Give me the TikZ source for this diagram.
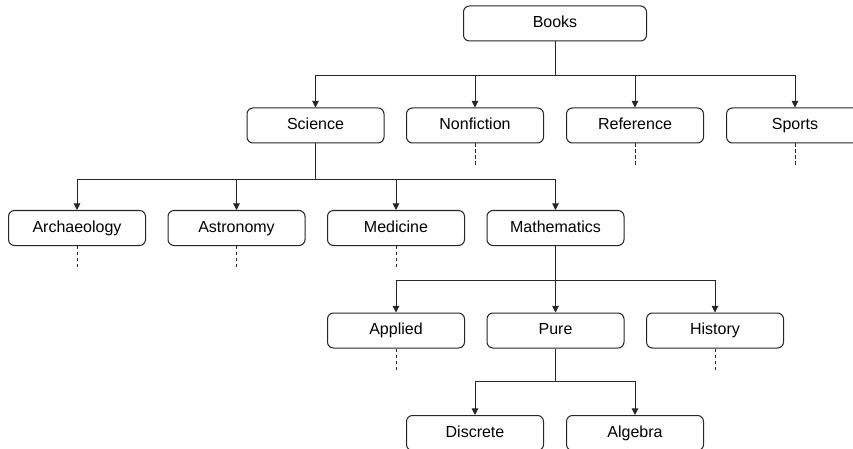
\documentclass[tikz,border=0pt]{standalone}
\usepackage{fontspec}
\setmainfont{Liberation Sans}
\usetikzlibrary{arrows.meta}

\begin{document}
\begin{tikzpicture}[x=0.75pt,y=-0.75pt]
        %
        % `category' is used for every box of the tree.
        % `branch' is used for the arrows, `more' for the dashed stubs.
        \tikzstyle{category} = [draw=black!85,line width=0.75pt,fill=white,rounded corners=4.5pt,minimum width=102.75pt,minimum height=26.25pt,inner sep=0pt,text height=9pt,text depth=3pt,font=\fontsize{12}{14}\selectfont]
        \tikzstyle{branch} = [draw=black!85,line width=0.75pt,-{Triangle[width=5pt,length=5pt]}]
        \tikzstyle{more} = [draw=black!85,line width=0.75pt,dash pattern=on 2.5pt off 2pt]
        %
        \clip (0,0) rectangle (853,449);
        %
        % Root
        \node[category,minimum width=137.25pt] (books) at (555,23.5) {Books};
        %
        % Row 1
        \node[category] (science) at (315.5,125.5) {Science};
        \node[category] (nonfiction) at (475,125.5) {Nonfiction};
        \node[category] (reference) at (635,125.5) {Reference};
        \node[category] (sports) at (795,125.5) {Sports};
        \draw[branch] (books.south) -- ++(0,34) -| (science.north);
        \draw[branch] (books.south) -- ++(0,34) -| (nonfiction.north);
        \draw[branch] (books.south) -- ++(0,34) -| (reference.north);
        \draw[branch] (books.south) -- ++(0,34) -| (sports.north);
        %
        % Row 2
        \node[category] (archaeology) at (77,228) {Archaeology};
        \node[category] (astronomy) at (236.5,228) {Astronomy};
        \node[category] (medicine) at (396,228) {Medicine};
        \node[category] (mathematics) at (555.5,228) {Mathematics};
        \draw[branch] (science.south) -- ++(0,36) -| (archaeology.north);
        \draw[branch] (science.south) -- ++(0,36) -| (astronomy.north);
        \draw[branch] (science.south) -- ++(0,36) -| (medicine.north);
        \draw[branch] (science.south) -- ++(0,36) -| (mathematics.north);
        %
        % Row 3
        \node[category] (applied) at (396,330.5) {Applied};
        \node[category] (pure) at (555.5,330.5) {Pure};
        \node[category] (history) at (715,330.5) {History};
        \draw[branch] (mathematics.south) -- ++(0,34) -| (applied.north);
        \draw[branch] (mathematics.south) -- ++(0,34) -| (pure.north);
        \draw[branch] (mathematics.south) -- ++(0,34) -| (history.north);
        %
        % Row 4
        \node[category] (discrete) at (475,433) {Discrete};
        \node[category] (algebra) at (635,433) {Algebra};
        \draw[branch] (pure.south) -- ++(0,33) -| (discrete.north);
        \draw[branch] (pure.south) -- ++(0,33) -| (algebra.north);
        %
        % Dashed stubs
        \draw[more] (nonfiction.south) -- ++(0,23);
        \draw[more] (reference.south) -- ++(0,23);
        \draw[more] (sports.south) -- ++(0,23);
        \draw[more] (archaeology.south) -- ++(0,23);
        \draw[more] (astronomy.south) -- ++(0,23);
        \draw[more] (medicine.south) -- ++(0,23);
        \draw[more] (applied.south) -- ++(0,23);
        \draw[more] (history.south) -- ++(0,23);
        %
\end{tikzpicture}
\end{document}
